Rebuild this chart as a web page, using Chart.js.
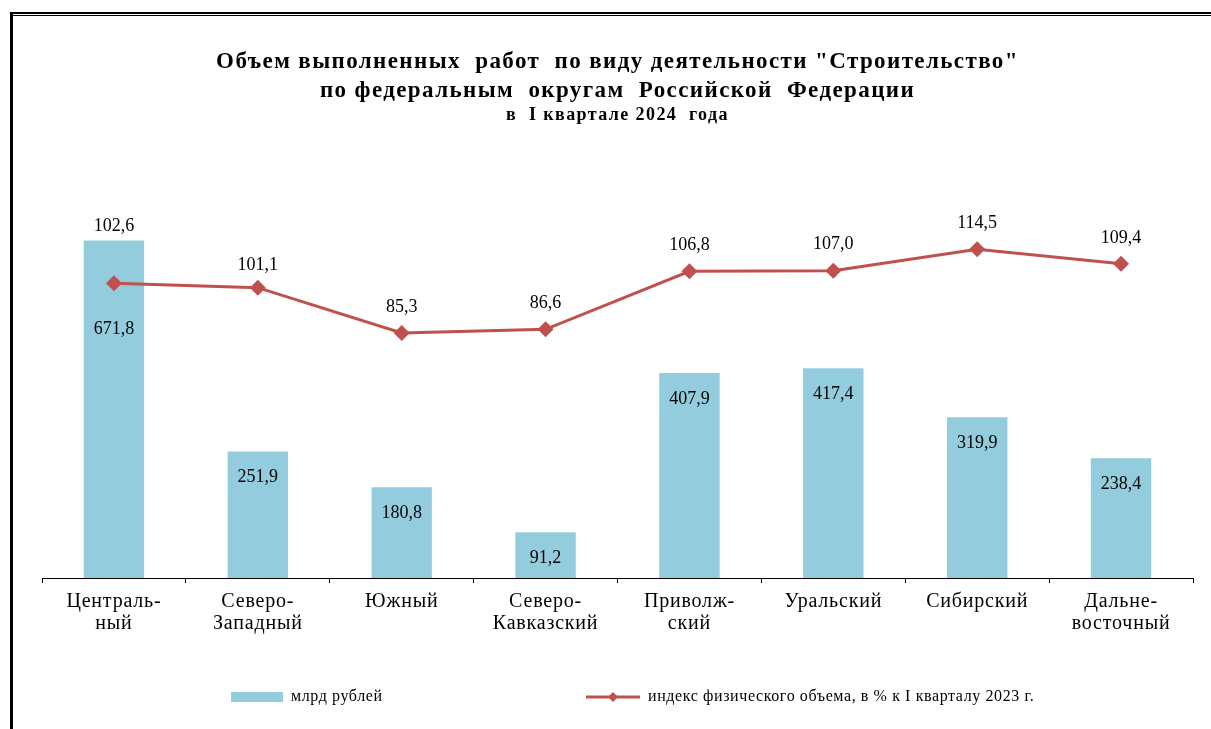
<!DOCTYPE html>
<html lang="ru">
<head>
<meta charset="UTF-8">
<title>Строительство по федеральным округам</title>
<script src="https://cdn.jsdelivr.net/npm/chart.js"></script>
<style>
    body { margin: 0; background: #fff; }
    canvas { display: block; }
</style>
</head>
<body>
<canvas id="chart" width="1211" height="729"></canvas>
<script>
// data
const districts = [
    ['Централь-', 'ный'], ['Северо-', 'Западный'], ['Южный'], ['Северо-', 'Кавказский'],
    ['Приволж-', 'ский'], ['Уральский'], ['Сибирский'], ['Дальне-', 'восточный']
];
const volume = [671.8, 251.9, 180.8, 91.2, 407.9, 417.4, 319.9, 238.4];
const physIndex = [102.6, 101.1, 85.3, 86.6, 106.8, 107.0, 114.5, 109.4];
const seriesNames = ['млрд рублей', 'индекс физического объема, в % к I кварталу 2023 г.'];
const titleLines = [
    'Объем выполненных  работ  по виду деятельности "Строительство"',
    'по федеральным  округам  Российской  Федерации'
];
const subtitleLine = 'в  I квартале 2024  года';

const BAR_COLOR = '#93CDDD';
const LINE_COLOR = '#C0504D';
const SERIF = '"Liberation Serif", "Times New Roman", serif';

function fmt(v) {
    return v.toFixed(1).replace('.', ',');
}

// the original text is drawn a little wider than Liberation Serif,
// so letter spacing is switched per drawing phase
const decor = {
    id: 'decor',
    beforeDraw(chart) {
        chart.ctx.letterSpacing = '1.4px';   // title + subtitle
    },
    beforeDatasetsDraw(chart) {
        chart.ctx.letterSpacing = '0px';
    },
    afterDatasetsDraw(chart) {
        const ctx = chart.ctx;
        ctx.save();
        ctx.fillStyle = '#000';
        ctx.font = '18px ' + SERIF;
        ctx.textAlign = 'center';
        ctx.textBaseline = 'middle';

        chart.getDatasetMeta(0).data.forEach((el, i) => {
            const off = i === 0 ? 89 : 26;
            ctx.fillText(fmt(volume[i]), el.x, el.y + off);
        });
        chart.getDatasetMeta(1).data.forEach((el, i) => {
            let off = 26;
            if (i === 0) off = 57;
            if (i === 1) off = 22;
            ctx.fillText(fmt(physIndex[i]), el.x, el.y - off);
        });
        ctx.restore();
        ctx.letterSpacing = '0.8px';   // category labels (drawn on z 1)
    },
    afterDraw(chart) {
        const ctx = chart.ctx;
        ctx.save();
        ctx.letterSpacing = '0px';
        // frame
        ctx.fillStyle = '#000';
        ctx.fillRect(10, 12, 1201, 2);
        ctx.fillRect(13, 15, 1198, 1);
        ctx.fillRect(10, 12, 3, 717);

        // legend
        const ly = 697;
        ctx.font = '16px ' + SERIF;
        ctx.textBaseline = 'middle';
        ctx.textAlign = 'left';
        ctx.fillStyle = BAR_COLOR;
        ctx.fillRect(231, ly - 5, 52, 10);
        ctx.letterSpacing = '0.6px';
        ctx.fillStyle = '#000';
        ctx.fillText(seriesNames[0], 291, ly);

        ctx.strokeStyle = LINE_COLOR;
        ctx.lineWidth = 3;
        ctx.beginPath();
        ctx.moveTo(586, ly);
        ctx.lineTo(640, ly);
        ctx.stroke();
        ctx.fillStyle = LINE_COLOR;
        ctx.beginPath();
        ctx.moveTo(613, ly - 5);
        ctx.lineTo(618, ly);
        ctx.lineTo(613, ly + 5);
        ctx.lineTo(608, ly);
        ctx.closePath();
        ctx.fill();
        ctx.fillStyle = '#000';
        ctx.fillText(seriesNames[1], 648, ly);
        ctx.restore();
        ctx.letterSpacing = '0px';
    }
};

new Chart(document.getElementById('chart'), {
    data: {
        labels: districts,
        datasets: [{
            type: 'bar',
            label: seriesNames[0],
            data: volume,
            backgroundColor: BAR_COLOR,
            yAxisID: 'y',
            categoryPercentage: 1,
            barPercentage: 0.42,
            order: 2
        }, {
            type: 'line',
            label: seriesNames[1],
            data: physIndex,
            borderColor: LINE_COLOR,
            backgroundColor: LINE_COLOR,
            borderWidth: 3,
            pointStyle: 'rectRot',
            pointRadius: 8,
            pointBorderWidth: 0,
            tension: 0,
            yAxisID: 'y1',
            order: 1
        }]
    },
    options: {
        responsive: false,
        animation: false,
        layout: {
            padding: { left: 42, right: 18, top: 0, bottom: 81 }
        },
        plugins: {
            legend: { display: false },
            tooltip: { enabled: false },
            title: {
                display: true,
                text: titleLines,
                color: '#000',
                font: { family: SERIF, size: 23, weight: 'bold', lineHeight: 1.26 },
                padding: { top: 48, bottom: 0 }
            },
            subtitle: {
                display: true,
                text: subtitleLine,
                color: '#000',
                font: { family: SERIF, size: 18, weight: 'bold', lineHeight: 1.0 },
                padding: { top: 0, bottom: 52 }
            }
        },
        scales: {
            x: {
                grid: {
                    offset: true,
                    drawOnChartArea: false,
                    drawTicks: true,
                    tickLength: 5,
                    color: '#000'
                },
                border: { display: true, color: '#000', width: 1 },
                ticks: {
                    z: 1,
                    color: '#000',
                    font: { family: SERIF, size: 20, lineHeight: 1.1 },
                    padding: 8,
                    maxRotation: 0,
                    autoSkip: false
                },
                afterFit(scale) {
                    scale.height = 70;
                }
            },
            y: { display: false, min: 0, max: 800 },
            y1: { display: false, position: 'right', min: 0, max: 140 }
        }
    },
    plugins: [decor]
});
</script>
</body>
</html>
